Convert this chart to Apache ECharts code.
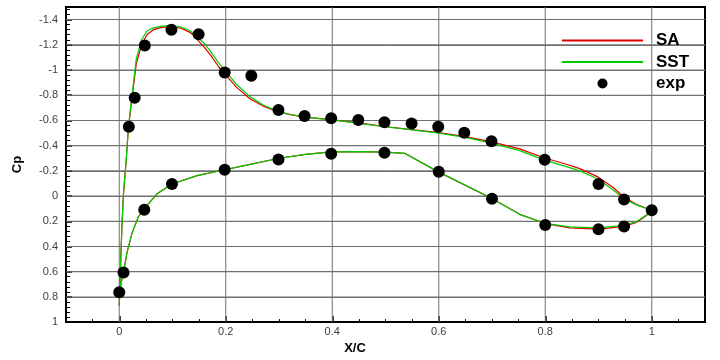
<!DOCTYPE html>
<html>
<head>
<meta charset="utf-8">
<script src="https://cdn.jsdelivr.net/npm/echarts@6/dist/echarts.min.js"></script>
<style>
html,body{margin:0;padding:0;background:#fff;}
#chart{width:720px;height:360px;}
</style>
</head>
<body>
<div id="chart"></div>
<script>
// ---- Data ----
// SA model: upper surface (LE -> TE) followed by lower surface (LE -> TE)
var saUpperX  = [0.0, 0.002, 0.005, 0.008, 0.013, 0.017, 0.024, 0.032, 0.042, 0.052, 0.064, 0.08, 0.096, 0.114, 0.13, 0.14, 0.152, 0.16, 0.171, 0.186, 0.196, 0.221, 0.246, 0.271, 0.3, 0.321, 0.35, 0.4, 0.45, 0.498, 0.55, 0.6, 0.65, 0.699, 0.752, 0.799, 0.835, 0.865, 0.899, 0.927, 0.948, 0.971, 1.0];
var saUpperCp = [0.87, 0.61, 0.24, -0.02, -0.28, -0.53, -0.78, -1.05, -1.2, -1.28, -1.32, -1.338, -1.342, -1.335, -1.305, -1.275, -1.215, -1.18, -1.12, -1.03, -0.98, -0.86, -0.77, -0.712, -0.668, -0.646, -0.626, -0.604, -0.58, -0.552, -0.527, -0.503, -0.472, -0.43, -0.374, -0.302, -0.258, -0.218, -0.152, -0.07, 0.01, 0.065, 0.115];
var saLowerX  = [0.0, 0.0006, 0.005, 0.008, 0.0144, 0.024, 0.036, 0.047, 0.071, 0.099, 0.146, 0.198, 0.246, 0.3, 0.35, 0.398, 0.45, 0.498, 0.537, 0.6, 0.7, 0.752, 0.8, 0.846, 0.9, 0.948, 0.971, 0.99, 1.0];
var saLowerCp = [0.87, 0.763, 0.659, 0.607, 0.45, 0.294, 0.164, 0.099, -0.018, -0.096, -0.162, -0.209, -0.252, -0.3, -0.33, -0.35, -0.352, -0.348, -0.338, -0.19, 0.02, 0.145, 0.218, 0.252, 0.262, 0.24, 0.21, 0.155, 0.115];

// SST model
var sstUpperX  = [0.0, 0.002, 0.005, 0.008, 0.013, 0.017, 0.024, 0.032, 0.042, 0.052, 0.064, 0.08, 0.096, 0.114, 0.13, 0.14, 0.152, 0.16, 0.171, 0.186, 0.196, 0.221, 0.246, 0.271, 0.3, 0.321, 0.35, 0.4, 0.45, 0.498, 0.55, 0.6, 0.65, 0.699, 0.752, 0.799, 0.835, 0.865, 0.899, 0.927, 0.948, 0.971, 1.0];
var sstUpperCp = [0.87, 0.61, 0.24, -0.02, -0.28, -0.54, -0.8, -1.09, -1.24, -1.31, -1.335, -1.348, -1.35, -1.343, -1.318, -1.29, -1.24, -1.21, -1.15, -1.06, -1.008, -0.883, -0.787, -0.721, -0.67, -0.647, -0.627, -0.604, -0.577, -0.55, -0.525, -0.5, -0.466, -0.42, -0.36, -0.285, -0.24, -0.2, -0.135, -0.05, 0.021, 0.07, 0.115];
var sstLowerX  = [0.0, 0.0006, 0.005, 0.008, 0.0144, 0.024, 0.036, 0.047, 0.071, 0.099, 0.146, 0.198, 0.246, 0.3, 0.35, 0.398, 0.45, 0.498, 0.537, 0.6, 0.7, 0.752, 0.8, 0.846, 0.9, 0.948, 0.971, 0.99, 1.0];
var sstLowerCp = [0.87, 0.763, 0.659, 0.607, 0.45, 0.294, 0.164, 0.099, -0.018, -0.096, -0.162, -0.209, -0.252, -0.3, -0.33, -0.35, -0.352, -0.348, -0.338, -0.19, 0.02, 0.145, 0.216, 0.245, 0.252, 0.232, 0.203, 0.151, 0.115];

// Experiment
var expX  = [0.0, 0.008, 0.018, 0.029, 0.048, 0.098, 0.149, 0.198, 0.248, 0.299, 0.348, 0.398, 0.449, 0.498, 0.549, 0.599, 0.648, 0.699, 0.799, 0.9, 0.948, 1.0,
             0.047, 0.099, 0.198, 0.299, 0.398, 0.498, 0.6, 0.7, 0.8, 0.9, 0.948];
var expCp = [0.763, 0.607, -0.55, -0.78, -1.195, -1.32, -1.283, -0.98, -0.955, -0.682, -0.635, -0.617, -0.604, -0.586, -0.576, -0.549, -0.502, -0.435, -0.289, -0.096, 0.028, 0.113,
             0.109, -0.096, -0.208, -0.29, -0.336, -0.343, -0.193, 0.022, 0.229, 0.263, 0.242];

// Axis ticks
var xTickValues = [0, 0.2, 0.4, 0.6, 0.8, 1];
var yTickValues = [-1.4, -1.2, -1, -0.8, -0.6, -0.4, -0.2, 0, 0.2, 0.4, 0.6, 0.8, 1];
var xRange = [-0.1, 1.1];
var yRange = [-1.5, 1];

// ---- Build ----
function pairs(xs, ys) { var out = []; for (var i = 0; i < xs.length; i++) out.push([xs[i], ys[i]]); return out; }
function loop(ux, uc, lx, lc) {
  var up = pairs(ux, uc).reverse(); // TE -> LE along upper surface
  return up.concat(pairs(lx, lc).slice(1)); // LE -> TE along lower surface
}
var saData = loop(saUpperX, saUpperCp, saLowerX, saLowerCp);
var sstData = loop(sstUpperX, sstUpperCp, sstLowerX, sstLowerCp);
var expData = pairs(expX, expCp);

function minorList(start, end, step, majors) {
  var out = [];
  var n = Math.round((end - start) / step);
  for (var i = 0; i <= n; i++) {
    var v = Math.round((start + i * step) * 1000) / 1000;
    var isMajor = majors.some(function (m) { return Math.abs(m - v) < 1e-6; });
    if (!isMajor) out.push(v);
  }
  return out;
}
var xMinor = minorList(-0.05, 1.05, 0.05, xTickValues);
var yMinor = minorList(-1.48, 0.96, 0.04, yTickValues);

var GRID_COLOR = '#707070';
var FONT = 'Liberation Sans, Arial, sans-serif';
var labelStyle = { color: '#404040', fontSize: 11, fontFamily: FONT };

// grid lines drawn through the axes' scales (thin filled rectangles)
function vGrid(params, api) {
  var p0 = api.coord([api.value(0), yRange[0]]);
  var p1 = api.coord([api.value(0), yRange[1]]);
  var top = Math.min(p0[1], p1[1]), h = Math.abs(p1[1] - p0[1]);
  return { type: 'rect', shape: { x: p0[0] - 0.5, y: top, width: 1, height: h }, style: { fill: GRID_COLOR }, silent: true };
}
function hGrid(params, api) {
  var p0 = api.coord([xRange[0], api.value(1)]);
  var p1 = api.coord([xRange[1], api.value(1)]);
  var left = Math.min(p0[0], p1[0]), w = Math.abs(p1[0] - p0[0]);
  return { type: 'rect', shape: { x: left, y: p0[1] - 0.5, width: w, height: 1 }, style: { fill: GRID_COLOR }, silent: true };
}

var chart = echarts.init(document.getElementById('chart'), null, { renderer: 'canvas' });
chart.setOption({
  animation: false,
  backgroundColor: '#ffffff',
  grid: { left: 66, right: 15, top: 7, bottom: 33, show: true, borderColor: '#000', borderWidth: 2, backgroundColor: 'transparent' },
  legend: {
    orient: 'vertical', left: 556, top: 27,
    itemWidth: 81, itemHeight: 10, itemGap: 4.5,
    textStyle: { color: '#000', fontSize: 17, fontWeight: 'bold', fontFamily: FONT, lineHeight: 15, padding: [2, 0, 0, 8] },
    data: [
      { name: 'SA', itemStyle: { opacity: 0 } },
      { name: 'SST', itemStyle: { opacity: 0 } },
      { name: 'exp', icon: 'circle' }
    ]
  },
  xAxis: [{
    type: 'value', min: xRange[0], max: xRange[1],
    name: 'X/C', nameLocation: 'middle', nameGap: 14,
    nameTextStyle: { color: '#000', fontSize: 13, fontWeight: 'bold', fontFamily: FONT, padding: [0, 61, 0, 0] },
    axisLine: { show: true, onZero: false, lineStyle: { color: '#000', width: 2 } },
    axisTick: { show: true, inside: true, length: 6, customValues: xTickValues, lineStyle: { color: '#000', width: 1.5 } },
    axisLabel: { show: true, customValues: xTickValues, margin: 4, ...labelStyle },
    splitLine: { show: false }
  }, {
    type: 'value', min: xRange[0], max: xRange[1], position: 'bottom',
    axisLine: { show: false, onZero: false },
    axisTick: { show: true, inside: true, length: 3, customValues: xMinor, lineStyle: { color: '#000', width: 1 } },
    axisLabel: { show: false },
    splitLine: { show: false }
  }],
  yAxis: [{
    type: 'value', min: yRange[0], max: yRange[1], inverse: true,
    name: 'Cp', nameLocation: 'middle', nameGap: 42, nameRotate: 90,
    nameTextStyle: { color: '#000', fontSize: 13, fontWeight: 'bold', fontFamily: FONT },
    axisLine: { show: true, onZero: false, lineStyle: { color: '#000', width: 2 } },
    axisTick: { show: true, inside: true, length: 6, customValues: yTickValues, lineStyle: { color: '#000', width: 1.5 } },
    axisLabel: { show: true, customValues: yTickValues, margin: 8, ...labelStyle },
    splitLine: { show: false }
  }, {
    type: 'value', min: yRange[0], max: yRange[1], inverse: true, position: 'left',
    axisLine: { show: false, onZero: false },
    axisTick: { show: true, inside: true, length: 4, customValues: yMinor, lineStyle: { color: '#000', width: 1 } },
    axisLabel: { show: false },
    splitLine: { show: false }
  }, {
    // helper axis: split lines every 0.1 from -1.5, only every other one coloured (=> -1.4, -1.2, ...)
    type: 'value', min: yRange[0], max: yRange[1], interval: 0.1, inverse: true, position: 'left',
    axisLine: { show: false, onZero: false },
    axisTick: { show: false },
    axisLabel: { show: false },
    splitLine: { show: true, showMinLine: true, showMaxLine: true, lineStyle: { color: ['rgba(0,0,0,0)', GRID_COLOR], width: 1 } }
  }],
  series: [
    { name: 'gridV', type: 'custom', renderItem: vGrid, silent: true, z: 1, clip: false,
      data: xTickValues.map(function (v) { return [v, 0]; }) },
    { name: 'gridH', type: 'custom', renderItem: hGrid, silent: true, z: 1, clip: false,
      data: yTickValues.filter(function (v) { return v !== yRange[1]; }).map(function (v) { return [0.5, v]; }) },
    { name: 'SA', type: 'line', data: saData, showSymbol: false, symbol: 'none', lineStyle: { color: '#e00000', width: 1.2 }, itemStyle: { color: '#e00000' }, z: 2 },
    { name: 'SST', type: 'line', data: sstData, showSymbol: false, symbol: 'none', lineStyle: { color: '#00cc00', width: 1.2 }, itemStyle: { color: '#00cc00' }, z: 3 },
    { name: 'exp', type: 'scatter', data: expData, symbol: 'circle', symbolSize: 12, itemStyle: { color: '#000', opacity: 1 }, z: 4 }
  ]
});
</script>
</body>
</html>
